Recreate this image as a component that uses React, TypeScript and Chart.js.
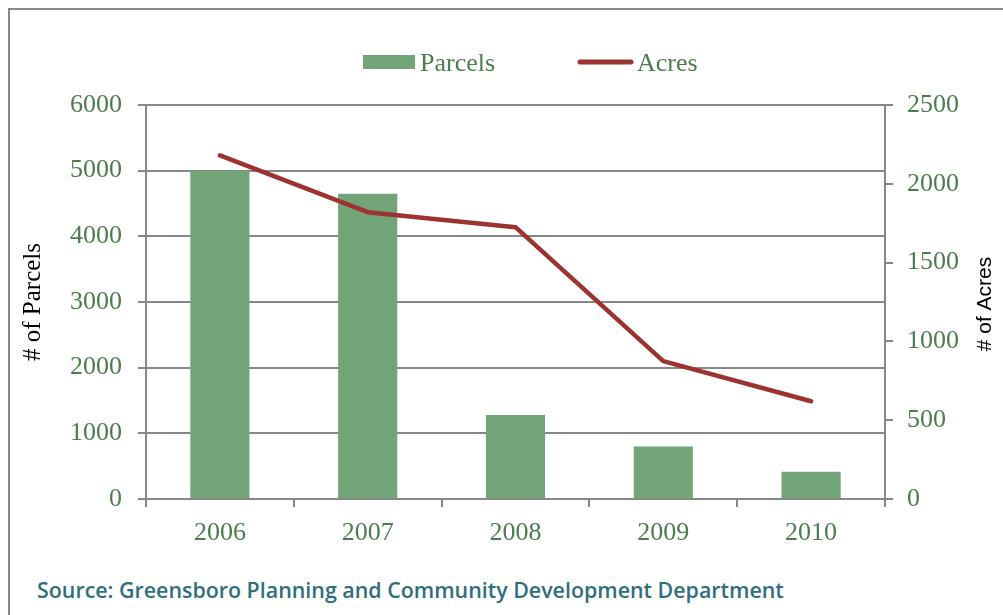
import React, { useEffect, useRef } from 'react';
import { Chart, registerables } from 'chart.js';

Chart.register(...registerables);

// ---- data ----
const categories = ['2006', '2007', '2008', '2009', '2010'];
const parcels = [5000, 4650, 1280, 800, 415];
const acres = [2180, 1820, 1725, 875, 620];
const seriesNames = ['Parcels', 'Acres'];
const parcelTicks = { min: 0, max: 6000, step: 1000 };
const acreTicks = { min: 0, max: 2500, step: 500 };
const axisTitles = ['# of Parcels', '# of Acres'];
const sourceText = 'Source: Greensboro Planning and Community Development Department';

// ---- styles ----
const BAR_COLOR = '#71a477';
const LINE_COLOR = '#9d3331';
const TEXT_GREEN = '#4d7d4f';
const GRID = '#878787';
const SERIF = '"Liberation Serif", "Times New Roman", serif';

const plainNumber = (v: any) => String(v);

const overlayPlugin = {
  id: 'overlay',
  afterDraw(chart: any) {
    const { ctx, chartArea } = chart;
    const ds = chart.data.datasets;
    ctx.save();
    // legend
    ctx.font = `26px ${SERIF}`;
    ctx.textBaseline = 'middle';
    ctx.textAlign = 'left';
    ctx.fillStyle = ds[0].backgroundColor;
    ctx.fillRect(353, 45, 52, 14);
    ctx.fillStyle = TEXT_GREEN;
    ctx.fillText(ds[0].label, 410, 54);
    ctx.strokeStyle = ds[1].borderColor;
    ctx.lineWidth = 5;
    ctx.lineCap = 'round';
    ctx.beginPath();
    ctx.moveTo(570, 52);
    ctx.lineTo(621, 52);
    ctx.stroke();
    ctx.fillText(ds[1].label, 627, 54);
    // right axis title (reads bottom-to-top)
    const cy = (chartArea.top + chartArea.bottom) / 2;
    ctx.translate(975.5, cy + 2);
    ctx.rotate(-Math.PI / 2);
    ctx.textAlign = 'center';
    ctx.fillStyle = '#000';
    ctx.font = '21px "Liberation Sans", Arial, sans-serif';
    ctx.fillText(axisTitles[1], 0, 0);
    ctx.restore();
  },
};

export default function App() {
  const ref = useRef<HTMLCanvasElement | null>(null);

  useEffect(() => {
    if (!ref.current) return;
    const chart = new Chart(ref.current, {
      type: 'bar',
      data: {
        labels: categories,
        datasets: [
          {
            type: 'bar',
            label: seriesNames[0],
            data: parcels,
            backgroundColor: BAR_COLOR,
            borderWidth: 0,
            barPercentage: 1,
            categoryPercentage: 0.4,
            yAxisID: 'y',
            order: 2,
          } as any,
          {
            type: 'line',
            label: seriesNames[1],
            data: acres,
            borderColor: LINE_COLOR,
            backgroundColor: LINE_COLOR,
            borderWidth: 4.5,
            borderCapStyle: 'round',
            borderJoinStyle: 'round',
            pointRadius: 0,
            pointHoverRadius: 0,
            tension: 0,
            yAxisID: 'y1',
            order: 1,
          } as any,
        ],
      },
      options: {
        responsive: false,
        animation: false,
        events: [],
        layout: { padding: { top: 95, bottom: 11, left: 0, right: 0 } },
        plugins: {
          legend: { display: false },
          tooltip: { enabled: false },
          title: { display: false },
        },
        scales: {
          x: {
            offset: true,
            grid: {
              offset: true,
              drawOnChartArea: false,
              tickLength: 8,
              color: GRID,
              lineWidth: 2,
            },
            border: { display: true, color: GRID, width: 2 },
            ticks: {
              color: TEXT_GREEN,
              font: { family: SERIF, size: 26 },
              padding: 11,
              maxRotation: 0,
            },
            afterFit: (s: any) => {
              s.height = 60;
            },
          },
          y: {
            position: 'left',
            min: parcelTicks.min,
            max: parcelTicks.max,
            ticks: {
              stepSize: parcelTicks.step,
              color: TEXT_GREEN,
              font: { family: SERIF, size: 26 },
              padding: 16,
              callback: plainNumber,
            },
            grid: { color: GRID, lineWidth: 2, tickLength: 8 },
            border: { display: true, color: GRID, width: 2 },
            title: {
              display: true,
              text: axisTitles[0],
              color: '#000',
              font: { family: SERIF, size: 25 },
              padding: { top: 8, bottom: 0 },
            },
            afterFit: (s: any) => {
              s.width = 136;
            },
          },
          y1: {
            position: 'right',
            min: acreTicks.min,
            max: acreTicks.max,
            ticks: {
              stepSize: acreTicks.step,
              color: TEXT_GREEN,
              font: { family: SERIF, size: 26 },
              padding: 14,
              callback: plainNumber,
            },
            grid: { drawOnChartArea: false, color: GRID, lineWidth: 2, tickLength: 8 },
            border: { display: true, color: GRID, width: 2 },
            afterFit: (s: any) => {
              s.width = 118;
            },
          },
        },
      } as any,
      plugins: [overlayPlugin],
    });
    return () => chart.destroy();
  }, []);

  return (
    <div
      style={{
        position: 'fixed',
        left: 0,
        top: 0,
        width: 1003,
        height: 615,
        overflow: 'hidden',
        background: '#fff',
      }}
    >
      <div
        style={{
          position: 'absolute',
          left: 8,
          top: 8,
          width: 1100,
          height: 700,
          border: '2px solid #878787',
          boxSizing: 'border-box',
        }}
      />
      <canvas
        ref={ref}
        width={993}
        height={560}
        style={{ position: 'absolute', left: 10, top: 10, width: 993, height: 560, display: 'block' }}
      />
      <div
        style={{
          position: 'absolute',
          left: 37,
          top: 578,
          lineHeight: '24px',
          fontFamily: '"Open Sans", sans-serif',
          fontWeight: 600,
          fontSize: 21.4,
          color: '#2f6e7c',
          whiteSpace: 'nowrap',
        }}
      >
        {sourceText}
      </div>
    </div>
  );
}
